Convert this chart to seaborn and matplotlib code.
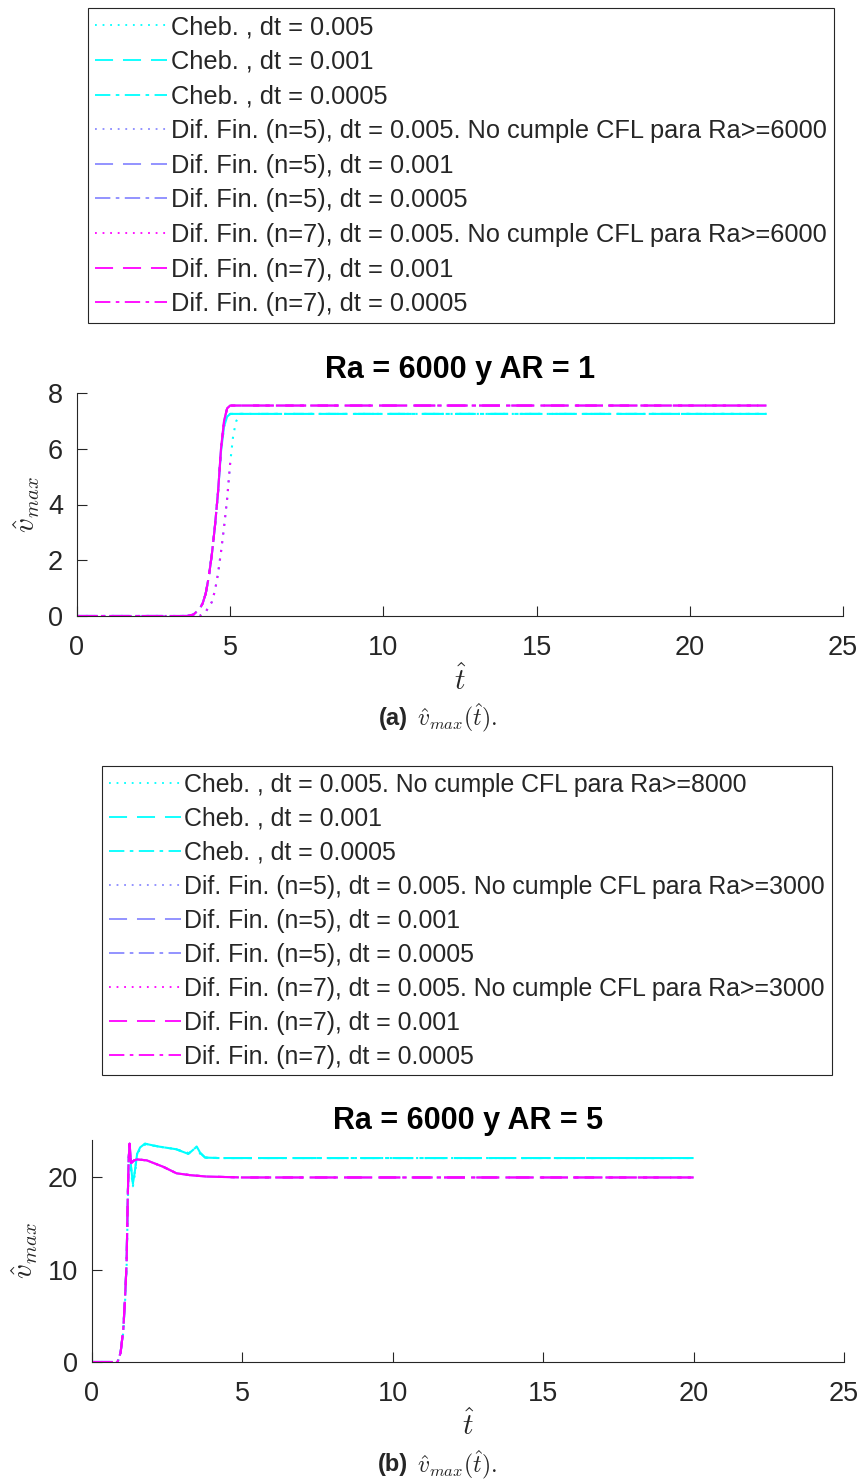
import matplotlib
matplotlib.use("Agg")
import matplotlib.pyplot as plt
from matplotlib.lines import Line2D
import seaborn as sns
import numpy as np

# ---------------- data ----------------
# Panel (a): Ra = 6000, AR = 1
t_a_fast = [0, 3.6, 3.8, 4.0, 4.1, 4.2, 4.3, 4.4, 4.5, 4.6, 4.7, 4.8, 4.9, 5.0, 5.1, 22.5]
v_a_df = [0, 0.0, 0.05, 0.25, 0.45, 0.8, 1.4, 2.2, 3.2, 4.4, 6.0, 7.0, 7.45, 7.55, 7.55, 7.55]
v_a_cheb = [0, 0.0, 0.05, 0.25, 0.45, 0.8, 1.4, 2.2, 3.2, 4.4, 5.9, 6.8, 7.15, 7.25, 7.25, 7.25]
t_a_slow = [0, 4.0, 4.2, 4.4, 4.5, 4.6, 4.7, 4.8, 4.9, 5.0, 5.1, 5.2, 5.35, 22.5]
v_a_cheb_slow = [0, 0.0, 0.15, 0.5, 0.9, 1.5, 2.3, 3.2, 4.2, 5.5, 6.5, 7.0, 7.25, 7.25]
t_a_df_slow = [0, 4.0, 4.2, 4.4, 4.5, 4.6, 4.7, 4.8, 4.9, 5.0]
v_a_df_slow = [0, 0.0, 0.15, 0.5, 0.9, 1.5, 2.3, 3.2, 4.2, 5.5]

# Panel (b): Ra = 6000, AR = 5
t_b_df = [0, 0.85, 0.95, 1.04, 1.10, 1.15, 1.19, 1.22, 1.25, 1.30, 1.40, 1.50, 1.82, 2.37, 2.81, 3.26, 3.8, 5.0, 20]
v_b_df = [0, 0.0, 1.0, 3.5, 7.0, 10.7, 17.9, 22.0, 23.6, 21.5, 21.8, 21.9, 21.8, 21.1, 20.4, 20.2, 20.05, 19.95, 19.95]
t_b_cheb = [0, 0.85, 0.95, 1.04, 1.10, 1.15, 1.19, 1.22, 1.25, 1.30, 1.36, 1.42, 1.50, 1.60, 1.76, 2.2, 2.8, 3.2, 3.35, 3.48, 3.6, 3.76, 4.2, 20]
v_b_cheb = [0, 0.0, 1.0, 3.5, 7.0, 10.7, 17.9, 22.0, 23.4, 21.0, 19.3, 20.5, 22.5, 23.2, 23.6, 23.3, 23.0, 22.5, 22.9, 23.3, 22.6, 22.1, 22.05, 22.05]
v_b_cheb_slow = [0, 0.0, 0.9, 3.2, 6.6, 10.2, 17.0, 21.5, 23.2, 20.6, 19.0, 20.2, 22.3, 23.1, 23.5, 23.3, 23.0, 22.6, 23.0, 23.2, 22.5, 22.1, 22.05, 22.05]

labels_a = [
    "Cheb. , dt = 0.005",
    "Cheb. , dt = 0.001",
    "Cheb. , dt = 0.0005",
    "Dif. Fin. (n=5), dt = 0.005. No cumple CFL para Ra>=6000",
    "Dif. Fin. (n=5), dt = 0.001",
    "Dif. Fin. (n=5), dt = 0.0005",
    "Dif. Fin. (n=7), dt = 0.005. No cumple CFL para Ra>=6000",
    "Dif. Fin. (n=7), dt = 0.001",
    "Dif. Fin. (n=7), dt = 0.0005",
]
labels_b = [
    "Cheb. , dt = 0.005. No cumple CFL para Ra>=8000",
    "Cheb. , dt = 0.001",
    "Cheb. , dt = 0.0005",
    "Dif. Fin. (n=5), dt = 0.005. No cumple CFL para Ra>=3000",
    "Dif. Fin. (n=5), dt = 0.001",
    "Dif. Fin. (n=5), dt = 0.0005",
    "Dif. Fin. (n=7), dt = 0.005. No cumple CFL para Ra>=3000",
    "Dif. Fin. (n=7), dt = 0.001",
    "Dif. Fin. (n=7), dt = 0.0005",
]

series_a = [
    (t_a_slow, v_a_cheb_slow),
    (t_a_fast, v_a_cheb),
    (t_a_fast, v_a_cheb),
    ([], []),
    (t_a_fast, v_a_df),
    (t_a_fast, v_a_df),
    (t_a_df_slow, v_a_df_slow),
    (t_a_fast, v_a_df),
    (t_a_fast, v_a_df),
]
series_b = [
    (t_b_cheb, v_b_cheb_slow),
    (t_b_cheb, v_b_cheb),
    (t_b_cheb, v_b_cheb),
    ([], []),
    (t_b_df, v_b_df),
    (t_b_df, v_b_df),
    ([], []),
    (t_b_df, v_b_df),
    (t_b_df, v_b_df),
]

CYAN = "#00ffff"
LAV = "#8a8aff"
MAG = "#ff00ff"
colors = [CYAN, CYAN, CYAN, LAV, LAV, LAV, MAG, MAG, MAG]
styles = [(0, (1, 3.2)), (0, (10, 5.5)), (0, (8.5, 3, 2, 3))] * 3

# ---------------- figure ----------------
sns.set_style("ticks")
plt.rcParams["font.family"] = ["Liberation Sans", "DejaVu Sans"]
plt.rcParams["mathtext.fontset"] = "cm"
plt.rcParams["xtick.direction"] = "in"
plt.rcParams["ytick.direction"] = "in"

fig = plt.figure(figsize=(8.62, 14.81), dpi=100)
W, H = 862, 1481


def fx(px):
    return px / W


def fy(py):
    return 1 - py / H


ax_a = fig.add_axes([fx(77), fy(616), fx(843) - fx(77), fy(393) - fy(616)])
ax_b = fig.add_axes([fx(92), fy(1362), fx(844) - fx(92), fy(1140) - fy(1362)])


def draw(ax, series, labels, xlim, ylim, yticks, title, legend_xy, leg_fs,
         leg_ls, cap_y, caplbl, ylab_x, xlab_y, tpad):
    for (t, v), c, ls in zip(series, colors, styles):
        if len(t) == 0:
            continue
        sns.lineplot(x=t, y=v, ax=ax, color=c, linestyle=ls, linewidth=1.5,
                     legend=False, estimator=None, sort=False)
    ax.set_xlim(*xlim)
    ax.set_ylim(*ylim)
    ax.set_xticks([0, 5, 10, 15, 20, 25])
    ax.set_yticks(yticks)
    ax.tick_params(labelsize=19.5, colors="#262626", length=7, width=0.8)
    ax.tick_params(axis="x", pad=14)
    ax.tick_params(axis="y", pad=10)
    for s in ["top", "right"]:
        ax.spines[s].set_visible(False)
    for s in ["left", "bottom"]:
        ax.spines[s].set_color("#262626")
        ax.spines[s].set_linewidth(0.8)
    ax.set_title(title, fontsize=22, fontweight="bold", pad=tpad, color="black")
    ax.set_xlabel("")
    ax.set_ylabel("")
    pos = ax.get_position()
    fig.text((pos.x0 + pos.x1) / 2, fy(xlab_y), r"$\hat{t}$", fontsize=21,
             ha="center", va="center", color="#262626")
    fig.text(fx(ylab_x), (pos.y0 + pos.y1) / 2, r"$\hat{v}_{max}$",
             fontsize=21, rotation=90, ha="center", va="center",
             color="#262626")
    handles = [Line2D([], [], color=c, linestyle=ls, linewidth=1.3)
               for c, ls in zip(colors, styles)]
    hl = 72 / (leg_fs * 100 / 72)
    leg = fig.legend(handles, labels, loc="upper left",
                     bbox_to_anchor=(fx(legend_xy[0]), fy(legend_xy[1])),
                     bbox_transform=fig.transFigure, borderaxespad=0,
                     fontsize=leg_fs, handlelength=hl, handletextpad=0.14,
                     labelspacing=leg_ls, borderpad=0.28, fancybox=False,
                     frameon=True, edgecolor="#262626", framealpha=1)
    leg.get_frame().set_linewidth(0.8)
    fig.text(fx(408), fy(cap_y), caplbl, fontsize=17, fontweight="bold",
             ha="right", va="center")
    fig.text(fx(417), fy(cap_y), r"$\hat{v}_{max}(\hat{t}).$", fontsize=17,
             ha="left", va="center")


draw(ax_a, series_a, labels_a, (0, 25), (0, 8), [0, 2, 4, 6, 8],
     "Ra = 6000 y AR = 1", (88, 8), 18.25, 0.42, 718, "(a)", 27, 680, 11)
draw(ax_b, series_b, labels_b, (0, 25), (0, 24), [0, 10, 20],
     "Ra = 6000 y AR = 5", (102, 766), 17.9, 0.40, 1465, "(b)", 25, 1425, 8)

fig.savefig("out.png", dpi=100)
